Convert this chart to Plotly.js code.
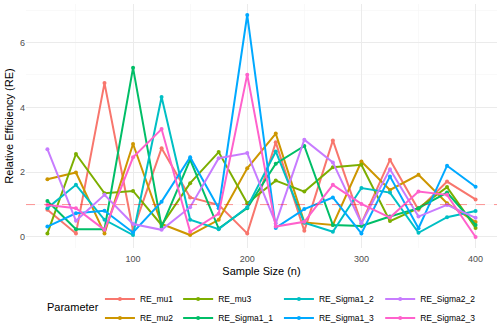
<!DOCTYPE html>
<html>
<head>
<meta charset="utf-8">
<script src="https://cdn.plot.ly/plotly-3.0.1.min.js"></script>
<style>
  html, body { margin: 0; padding: 0; background: #fff; }
  #chart { width: 500px; height: 326px; }
</style>
</head>
<body>
<div id="chart"></div>
<script>
var sampleSize = [25, 50, 75, 100, 125, 150, 175, 200, 225, 250, 275, 300, 325, 350, 375, 400];

var reMu1      = [0.84, 0.11, 4.75, 0.20, 2.74, 1.22, 0.99, 0.11, 2.92, 0.19, 2.98, 0.42, 2.38, 0.84, 1.71, 1.16];
var reMu2      = [1.78, 1.99, 0.11, 2.87, 0.40, 0.06, 0.53, 2.12, 3.19, 0.45, 0.37, 2.33, 1.45, 1.92, 1.04, 0.46];
var reMu3      = [0.11, 2.56, 1.35, 1.42, 0.37, 1.66, 2.62, 1.04, 1.74, 1.40, 2.15, 2.23, 0.49, 0.89, 1.54, 0.28];
var reSigma1_1 = [1.11, 0.24, 0.24, 5.22, 0.31, 2.39, 0.26, 0.89, 2.26, 2.81, 0.37, 0.34, 0.63, 0.89, 1.37, 0.37];
var reSigma1_2 = [0.89, 1.61, 0.53, 0.06, 4.32, 0.53, 0.24, 0.92, 2.64, 0.44, 0.16, 1.51, 1.37, 0.13, 0.61, 0.80];
var reSigma1_3 = [0.32, 0.73, 0.81, 0.14, 1.09, 2.46, 0.89, 6.85, 0.28, 0.86, 1.22, 0.11, 1.87, 0.27, 2.20, 1.55];
var reSigma2_2 = [2.71, 0.50, 1.30, 0.40, 0.22, 0.92, 2.43, 2.59, 0.42, 3.00, 2.30, 0.42, 2.09, 0.63, 0.99, 0.59];
var reSigma2_3 = [0.99, 0.89, 0.22, 2.46, 3.33, 0.16, 0.72, 5.01, 0.32, 0.47, 1.61, 1.02, 0.60, 1.40, 1.30, 0.00];

var seriesNames = ['RE_mu1', 'RE_mu2', 'RE_mu3', 'RE_Sigma1_1', 'RE_Sigma1_2', 'RE_Sigma1_3', 'RE_Sigma2_2', 'RE_Sigma2_3'];
var seriesValues = [reMu1, reMu2, reMu3, reSigma1_1, reSigma1_2, reSigma1_3, reSigma2_2, reSigma2_3];
var seriesColors = ['#F8766D', '#CD9600', '#7CAE00', '#00BE67', '#00BFC4', '#00A9FF', '#C77CFF', '#FF61CC'];
// ggplot fills the legend column by column, two entries each
var legendIds = ['legend', 'legend', 'legend2', 'legend2', 'legend3', 'legend3', 'legend4', 'legend4'];

var font = 'Liberation Sans, Arial, sans-serif';

var traces = seriesNames.map(function(name, i) {
  return {
    x: sampleSize,
    y: seriesValues[i],
    name: name,
    type: 'scatter',
    mode: 'lines+markers',
    line: {color: seriesColors[i], width: 2},
    marker: {color: seriesColors[i], size: 4},
    legend: legendIds[i]
  };
});

function legendCol(x) {
  return {
    orientation: 'v',
    x: x,
    xanchor: 'left',
    y: -0.15,
    yanchor: 'top',
    itemwidth: 30,
    font: {family: font, size: 8.5, color: '#000'},
    bgcolor: 'rgba(0,0,0,0)'
  };
}

var layout = {
  width: 500,
  height: 326,
  paper_bgcolor: '#fff',
  plot_bgcolor: '#fff',
  margin: {l: 26, r: 3, t: 4, b: 78, autoexpand: false},
  font: {family: font, size: 9, color: '#4D4D4D'},
  showlegend: true,
  xaxis: {
    range: [6.25, 418.75],
    tick0: 0,
    dtick: 100,
    showgrid: true,
    gridcolor: '#EBEBEB',
    gridwidth: 1,
    minor: {tick0: 0, dtick: 50, showgrid: true, gridcolor: '#F5F5F5', gridwidth: 0.6},
    zeroline: false,
    showline: false,
    ticks: '',
    ticklabelstandoff: 4,
    tickfont: {family: font, size: 9, color: '#4D4D4D'},
    title: {text: 'Sample Size (n)', font: {family: font, size: 11, color: '#000'}, standoff: 4}
  },
  yaxis: {
    range: [-0.34, 7.19],
    tick0: 0,
    dtick: 2,
    showgrid: true,
    gridcolor: '#EBEBEB',
    gridwidth: 1,
    minor: {tick0: 0, dtick: 1, showgrid: true, gridcolor: '#F5F5F5', gridwidth: 0.6},
    zeroline: false,
    showline: false,
    ticks: '',
    tickfont: {family: font, size: 9, color: '#4D4D4D'},
    title: {text: 'Relative Efficiency (RE)', font: {family: font, size: 11, color: '#000'}, standoff: 4}
  },
  shapes: [{
    type: 'line', xref: 'paper', x0: 0, x1: 1, yref: 'y', y0: 1, y1: 1,
    line: {color: 'rgba(255,0,0,0.6)', width: 0.7, dash: 'dash'}
  }],
  legend: legendCol(0.157),
  legend2: legendCol(0.323),
  legend3: legendCol(0.537),
  legend4: legendCol(0.752),
  annotations: [{
    text: 'Parameter',
    xref: 'paper', yref: 'paper',
    x: 0.04, y: -0.242,
    xanchor: 'left', yanchor: 'middle',
    showarrow: false,
    font: {family: font, size: 11, color: '#000'}
  }]
};

Plotly.newPlot('chart', traces, layout, {displayModeBar: false, staticPlot: true});
</script>
</body>
</html>
